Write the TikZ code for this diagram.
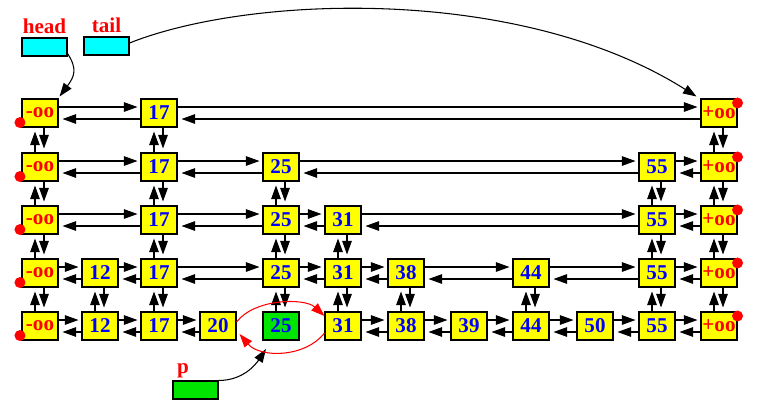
\documentclass[tikz,border=0pt]{standalone}
\usepackage{fontspec}
\setmainfont{Liberation Serif}
\usepackage{tikz}
\usetikzlibrary{arrows.meta}
\definecolor{nodegreen}{RGB}{0,230,0}
\definecolor{nodeyellow}{RGB}{255,255,0}
\definecolor{ptrcyan}{RGB}{0,255,255}
\definecolor{keyblue}{RGB}{0,0,255}
\definecolor{keyred}{RGB}{255,0,0}

\tikzset{
  keybox/.style={draw, fill=nodeyellow, minimum width=0.72cm, minimum height=0.56cm,
    inner sep=0pt, text=keyblue, font=\fontsize{12}{13}\selectfont\bfseries},
  sentinel/.style={keybox, text=keyred},
  ptrbox/.style={draw, fill=ptrcyan, minimum width=0.9cm, minimum height=0.36cm, inner sep=0pt},
  lbl/.style={text=keyred, inner sep=0pt, font=\fontsize{12}{13}\selectfont\bfseries},
  link/.style={-{Triangle[length=0.27cm,width=0.19cm]}},
  redlink/.style={keyred, link}
}

\begin{document}
\begin{tikzpicture}[x=0.02cm, y=-0.02cm, line width=0.6pt]
\useasboundingbox (0,0) rectangle (766,407);

% sentinels with their dots
\foreach \r/\y in {1/113,2/167,3/220,4/273,5/326} {
  \node[sentinel] (r\r m) at (40,\y) {-oo};
  \node[sentinel] (r\r p) at (719,\y) {+oo};
  \fill[keyred] ([xshift=-0.03cm,yshift=0.1cm]r\r m.south west) circle (0.11cm);
  \fill[keyred] ([yshift=-0.09cm]r\r p.north east) circle (0.11cm);
}

% keys, level by level
\foreach \r/\y/\keys in {1/113/{17/159},
    2/167/{17/159,25/281,55/657},
    3/220/{17/159,25/281,31/343,55/657},
    4/273/{12/100,17/159,25/281,31/343,38/406,44/531,55/657},
    5/326/{12/100,17/159,20/218,31/343,38/406,39/469,44/531,50/595,55/657}} {
  \foreach \k/\x in \keys
    \node[keybox] (r\r k\k) at (\x,\y) {\k};
}
\node[keybox, fill=nodegreen] (r5k25) at (281,326) {25};

% next / prev
\foreach \r/\first/\chain in {1/m/{k17,p}, 2/m/{k17,k25,k55,p},
    3/m/{k17,k25,k31,k55,p}, 4/m/{k12,k17,k25,k31,k38,k44,k55,p},
    5/m/{k12,k17,k20}, 5/k31/{k38,k39,k44,k50,k55,p}} {
  \foreach \rgt [remember=\rgt as \lft (initially \first)] in \chain {
    \draw[link] ([yshift=0.12cm]r\r\lft.east) -- ([xshift=-0.06cm,yshift=0.12cm]r\r\rgt.west);
    \draw[link] ([yshift=-0.12cm]r\r\rgt.west) -- ([xshift=0.08cm,yshift=-0.12cm]r\r\lft.east);
  }
}

% up / down
\foreach \r/\s/\cols in {1/2/{m,k17,p}, 2/3/{m,k17,k25,k55,p},
    3/4/{m,k17,k25,k31,k55,p}, 4/5/{m,k12,k17,k25,k31,k38,k44,k55,p}} {
  \foreach \c in \cols {
    \draw[link] ([xshift=-0.1cm]r\s\c.north) -- ([xshift=-0.1cm,yshift=-0.08cm]r\r\c.south);
    \draw[link] ([xshift=0.08cm]r\r\c.south) -- ([xshift=0.08cm,yshift=0.08cm]r\s\c.north);
  }
}

% head, tail and p
\node[ptrbox] (head) at (44.5,47) {};
\node[ptrbox] (tail) at (106.5,46) {};
\node[ptrbox, fill=nodegreen] (p) at (195.5,390) {};
\node[lbl, anchor=base] (headlabel) at ([yshift=0.07cm]head.north) {head};
\node[lbl, anchor=base] (taillabel) at ([yshift=0.07cm]tail.north) {tail};
\node[lbl, anchor=base west] (plabel) at ([xshift=0.08cm,yshift=0.14cm]p.north west) {p};
\coordinate (pin) at (266,349);

\draw[link] ([yshift=0.06cm]head.south east) .. controls +(10,15) and +(15,-20) .. ([xshift=0.02cm,yshift=0.04cm]r1m.north east);
\draw[link] ([yshift=0.06cm]tail.east) .. controls (250,-5) and (520,-15) .. ([xshift=-0.08cm,yshift=0.04cm]r1p.north west);
\draw[link] (p.north east) .. controls +(25,0) and +(-10,15) .. (pin);

% splice round the new node
\draw[redlink] ([yshift=0.08cm]r5k20.east) .. controls (255,298) and (305,298) .. ([yshift=0.2cm]r5k31.west);
\draw[redlink] ([yshift=-0.14cm]r5k31.west) .. controls (305,358) and (260,358) .. ([xshift=0.06cm,yshift=-0.16cm]r5k20.east);

\end{tikzpicture}
\end{document}
